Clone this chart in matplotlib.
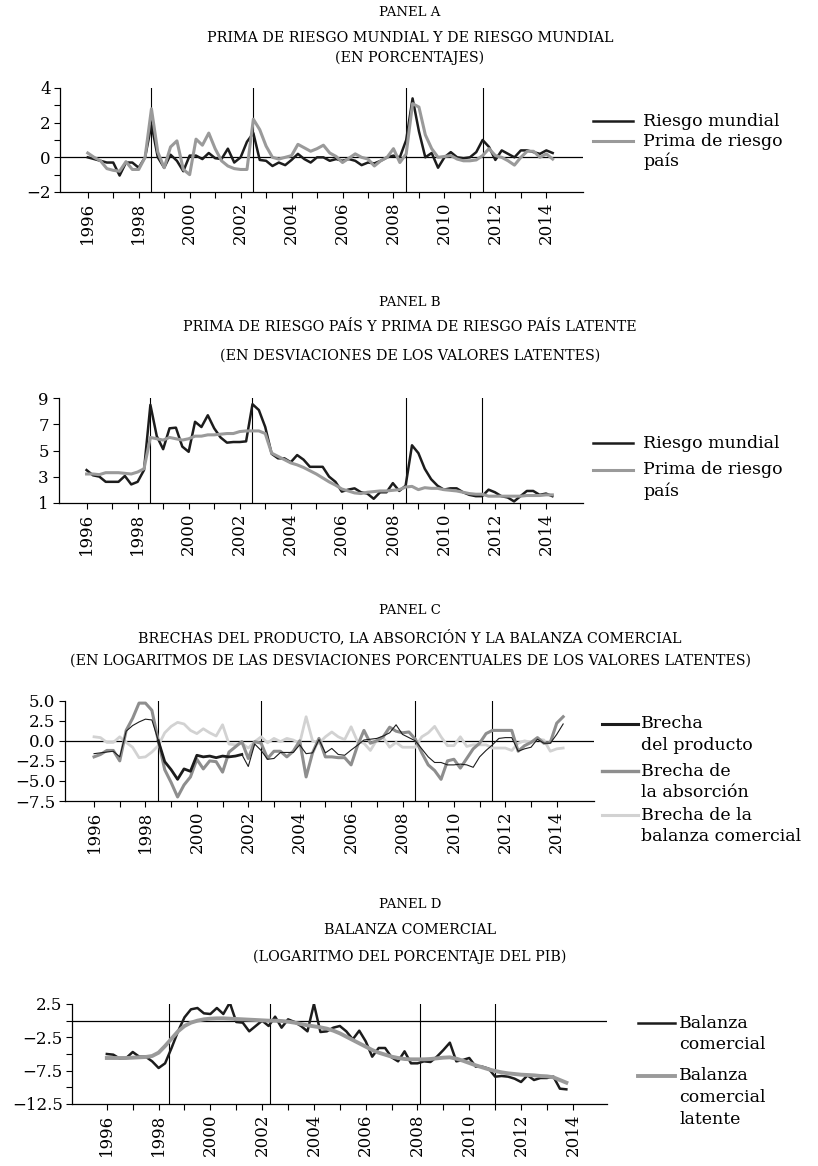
import numpy as np
import matplotlib
matplotlib.use('Agg')
import matplotlib.pyplot as plt
from matplotlib.lines import Line2D

W, H = 818, 1166
plt.rcParams['font.family'] = ['DejaVu Serif']
plt.rcParams['axes.unicode_minus'] = True

# ---- datos (trimestrales desde 1996T1) ----
a_riesgo_mundial = [
    0.0, -0.1, -0.2, -0.3, -0.3, -1.05, -0.3, -0.3, -0.6, 0.0,
    1.9, 0.0, -0.6, 0.15, -0.2, -0.8, 0.1, 0.1, -0.1, 0.25,
    -0.05, -0.1, 0.5, -0.3, 0.0, 0.9, 1.4, -0.15, -0.2, -0.5,
    -0.3, -0.45, -0.15, 0.2, -0.1, -0.3, 0.0, 0.0, -0.2, -0.1,
    -0.2, -0.1, -0.2, -0.45, -0.3, -0.35, -0.2, 0.0, 0.1, 0.0,
    1.0, 3.4, 1.5, 0.0, 0.25, -0.6, 0.0, 0.3, 0.0, -0.05,
    0.0, 0.3, 1.0, 0.6, -0.15, 0.4, 0.2, 0.0, 0.4, 0.4,
    0.3, 0.2, 0.4, 0.25]
a_prima_pais = [
    0.25, 0.0, -0.2, -0.65, -0.75, -0.8, -0.25, -0.7, -0.7, 0.0,
    2.8, 0.3, -0.6, 0.6, 0.95, -0.7, -1.0, 1.05, 0.7, 1.4,
    0.5, -0.2, -0.5, -0.65, -0.7, -0.7, 2.2, 1.6, 0.65, 0.0,
    -0.1, 0.0, 0.1, 0.75, 0.55, 0.35, 0.5, 0.7, 0.25, 0.05,
    -0.3, -0.05, 0.2, 0.0, -0.1, -0.5, -0.2, 0.0, 0.5, -0.3,
    0.2, 3.1, 2.9, 1.3, 0.5, 0.0, 0.05, 0.1, -0.1, -0.2,
    -0.2, -0.15, 0.1, 0.5, 0.1, 0.0, -0.2, -0.45, 0.0, 0.35,
    0.35, 0.0, 0.2, -0.1]

b_riesgo = [
    3.5, 3.1, 3.0, 2.6, 2.6, 2.6, 3.05, 2.4, 2.6, 3.5,
    8.5, 6.1, 5.1, 6.7, 6.75, 5.3, 4.9, 7.2, 6.8, 7.7,
    6.7, 6.0, 5.6, 5.65, 5.65, 5.7, 8.55, 8.1, 6.8, 4.75,
    4.4, 4.4, 4.1, 4.65, 4.3, 3.75, 3.75, 3.75, 3.0, 2.6,
    1.85, 2.0, 2.1, 1.8, 1.7, 1.3, 1.8, 1.8, 2.5, 1.9,
    2.3, 5.4, 4.8, 3.6, 2.8, 2.3, 2.0, 2.1, 2.1, 1.8,
    1.6, 1.5, 1.5, 2.0, 1.8, 1.5, 1.4, 1.1, 1.5, 1.9,
    1.9, 1.6, 1.7, 1.5]
b_latente = [
    3.2, 3.2, 3.15, 3.3, 3.3, 3.3, 3.25, 3.2, 3.35, 3.6,
    6.0, 5.9, 5.8, 6.0, 5.9, 5.8, 5.9, 6.1, 6.1, 6.2,
    6.2, 6.25, 6.3, 6.3, 6.45, 6.5, 6.5, 6.5, 6.3, 4.8,
    4.55, 4.3, 4.05, 3.9, 3.7, 3.45, 3.2, 2.9, 2.6, 2.35,
    2.05, 1.9, 1.75, 1.7, 1.8, 1.85, 1.9, 1.9, 1.95, 2.0,
    2.2, 2.25, 2.0, 2.15, 2.1, 2.1, 2.0, 1.95, 1.9, 1.8,
    1.7, 1.65, 1.65, 1.5, 1.5, 1.5, 1.5, 1.5, 1.5, 1.55,
    1.55, 1.55, 1.6, 1.6]

c_producto = [
    -1.6, -1.5, -1.4, -1.3, -2.0, 1.2, 1.9, 2.35, 2.7, 2.6,
    0.0, -2.6, -3.6, -4.8, -3.5, -3.8, -1.8, -2.0, -1.9, -2.1,
    -1.9, -2.0, -1.9, -1.7, -3.2, -0.4, -1.2, -2.3, -2.2, -1.45,
    -1.45, -1.45, -0.5, -1.6, -1.5, 0.15, -1.5, -0.95, -1.7, -1.8,
    -1.15, -0.55, 0.1, 0.2, 0.3, 0.6, 1.0, 2.0, 0.8, 0.4,
    0.0, -1.0, -2.0, -2.7, -2.7, -3.0, -3.0, -2.9, -3.0, -3.3,
    -2.0, -1.2, -0.5, 0.3, 0.4, 0.4, -1.3, -1.0, -0.8, 0.2,
    -0.3, -0.3, 0.8, 2.1]
c_absorcion = [
    -2.0, -1.7, -1.2, -1.2, -2.5, 1.3, 2.8, 4.7, 4.7, 3.8,
    0.0, -3.6, -5.2, -7.0, -5.5, -4.5, -2.3, -3.5, -2.5, -2.6,
    -3.9, -1.4, -0.75, -0.1, -2.2, -0.1, -0.3, -2.2, -1.3, -1.3,
    -2.0, -1.3, 0.0, -4.5, -1.5, 0.3, -2.0, -2.0, -2.1, -2.1,
    -3.0, -0.6, 1.3, -0.3, 0.0, 0.5, 1.7, 1.2, 1.0, 1.1,
    0.2, -1.5, -3.0, -3.7, -4.8, -2.5, -2.3, -3.4, -2.2, -1.0,
    -0.3, 0.9, 1.3, 1.3, 1.3, 1.3, -1.3, -0.6, -0.2, 0.4,
    -0.3, -0.2, 2.2, 3.0]
c_balanza = [
    0.5, 0.4, -0.2, -0.2, 0.5, -0.2, -0.8, -2.1, -2.0, -1.4,
    -0.6, 1.0, 1.8, 2.3, 2.1, 1.3, 0.9, 1.5, 1.0, 0.6,
    2.0, -0.4, -0.5, -0.3, -0.9, -0.1, 0.5, -0.25, 0.3, -0.1,
    0.3, 0.1, -0.3, 3.0, 0.0, -0.3, 0.5, 1.1, 0.5, 0.15,
    1.75, -0.1, -0.3, -1.2, 0.1, 0.4, -0.8, -0.2, -0.8, -0.8,
    -0.8, 0.5, 1.0, 1.8, 0.5, -0.6, -0.6, 0.5, -0.7, -0.5,
    -0.5, -0.5, -0.9, -0.9, -0.9, -1.2, -0.3, 0.0, -0.2, 0.2,
    0.1, -1.3, -1.0, -0.9]

d_balanza = [
    -5.0, -5.1, -5.7, -5.6, -4.7, -5.4, -5.4, -6.1, -7.1, -6.4,
    -4.1, -1.6, 0.5, 1.7, 1.9, 1.1, 1.0, 1.9, 1.0, 2.7,
    -0.2, -0.3, -1.6, -0.8, 0.0, -0.8, 0.6, -1.05, 0.2, -0.2,
    -0.8, -1.6, 2.5, -1.7, -1.6, -1.05, -0.8, -1.6, -2.8, -1.5,
    -3.1, -5.4, -4.1, -4.1, -5.5, -6.1, -4.6, -6.4, -6.4, -6.1,
    -6.2, -5.4, -4.4, -3.3, -6.1, -5.9, -5.6, -6.9, -6.9, -7.2,
    -8.4, -8.3, -8.4, -8.7, -9.2, -8.2, -8.9, -8.6, -8.6, -8.4,
    -10.2, -10.3]
d_latente = [
    -5.6, -5.6, -5.6, -5.6, -5.55, -5.5, -5.45, -5.3, -4.8, -3.8,
    -2.7, -1.6, -0.8, -0.3, 0.0, 0.2, 0.3, 0.35, 0.35, 0.3,
    0.25, 0.2, 0.15, 0.1, 0.05, 0.0, 0.0, -0.05, -0.15, -0.3,
    -0.5, -0.7, -0.85, -1.0, -1.2, -1.5, -1.9, -2.4, -2.9, -3.4,
    -3.9, -4.4, -4.8, -5.1, -5.4, -5.6, -5.75, -5.8, -5.8, -5.8,
    -5.75, -5.65, -5.55, -5.5, -5.7, -6.0, -6.35, -6.7, -7.0, -7.3,
    -7.55, -7.75, -7.9, -8.0, -8.1, -8.15, -8.2, -8.3, -8.35, -8.5,
    -8.9, -9.3]

years = list(range(1996, 2015))
crisis_abc = [1998.5, 2002.5, 2008.5, 2011.5]
crisis_d = [1998.4, 2002.3, 2008.1, 2011.0]

BLACK = '#1c1c1c'
GRAY = '#9a9a9a'
GRAY2 = '#8e8e8e'
LIGHT = '#d2d2d2'


def t(n):
    return 1996 + np.arange(n) / 4.0


def px_box(l, top, r, b):
    return [l / W, 1 - b / H, (r - l) / W, (b - top) / H]


fig = plt.figure(figsize=(W / 100, H / 100), dpi=100)


def titles(y0, lines):
    fig.text(410 / W, 1 - y0[0] / H, lines[0], ha='center', va='center', fontsize=9.5)
    fig.text(410 / W, 1 - y0[1] / H, lines[1], ha='center', va='center', fontsize=10.3)
    fig.text(410 / W, 1 - y0[2] / H, lines[2], ha='center', va='center', fontsize=10.3)


def style(ax, xlim, ylim, major, labels, minor, vlines, zero=True):
    ax.set_xlim(xlim)
    ax.set_ylim(ylim)
    for s in ['top', 'right']:
        ax.spines[s].set_visible(False)
    for s in ['left', 'bottom']:
        ax.spines[s].set_linewidth(0.9)
    ax.set_yticks(major)
    ax.set_yticklabels(labels)
    if minor is not None:
        ax.set_yticks(minor, minor=True)
    ax.set_xticks(years)
    ax.set_xticklabels([str(y) if y % 2 == 0 else '' for y in years], rotation=90)
    ax.tick_params(axis='x', length=4, width=0.8, pad=3, labelsize=12)
    ax.tick_params(axis='y', which='both', length=4, width=0.8, pad=3, labelsize=12)
    for v in vlines:
        ax.axvline(v, color='black', lw=0.8, zorder=1)
    if zero:
        ax.axhline(0, color='black', lw=0.9, zorder=1)


def legend(entries, x0, x1, tx, dy=21.5):
    for lines, color, lw, y in entries:
        fig.add_artist(Line2D([x0 / W, x1 / W], [1 - y / H, 1 - y / H], color=color, lw=lw))
        for i, s in enumerate(lines):
            fig.text(tx / W, 1 - (y + i * dy) / H, s, ha='left', va='center', fontsize=12.5)


# ---- Panel A ----
titles((13, 38, 58), ['PANEL A', 'PRIMA DE RIESGO MUNDIAL Y DE RIESGO MUNDIAL', '(EN PORCENTAJES)'])
ax = fig.add_axes(px_box(60.5, 88, 583, 192))
ax.plot(t(len(a_riesgo_mundial)), a_riesgo_mundial, color=BLACK, lw=1.8, zorder=3)
ax.plot(t(len(a_prima_pais)), a_prima_pais, color=GRAY, lw=2.2, zorder=3)
style(ax, (1994.93, 2015.44), (-2, 4), [-2, 0, 2, 4], ['\u22122', '0', '2', '4'],
      [-1, 1, 3], crisis_abc)
legend([(['Riesgo mundial'], BLACK, 1.8, 121),
        (['Prima de riesgo', 'país'], GRAY, 2.2, 141)], 593, 633, 643, dy=20.5)

# ---- Panel B ----
titles((303, 327, 356), ['PANEL B', 'PRIMA DE RIESGO PAÍS Y PRIMA DE RIESGO PAÍS LATENTE',
                          '(EN DESVIACIONES DE LOS VALORES LATENTES)'])
ax = fig.add_axes(px_box(58.5, 398.3, 583, 502.7))
ax.plot(t(len(b_riesgo)), b_riesgo, color=BLACK, lw=1.8, zorder=3)
ax.plot(t(len(b_latente)), b_latente, color=GRAY, lw=2.2, zorder=3)
style(ax, (1994.9, 2015.45), (1, 9), [1, 3, 5, 7, 9], ['1', '3', '5', '7', '9'],
      None, crisis_abc, zero=False)
legend([(['Riesgo mundial'], BLACK, 1.8, 443),
        (['Prima de riesgo', 'país'], GRAY, 2.2, 470)], 593, 633, 643, dy=21.5)

# ---- Panel C ----
titles((611, 637, 661), ['PANEL C', 'BRECHAS DEL PRODUCTO, LA ABSORCIÓN Y LA BALANZA COMERCIAL',
                          '(EN LOGARITMOS DE LAS DESVIACIONES PORCENTUALES DE LOS VALORES LATENTES)'])
ax = fig.add_axes(px_box(65, 700.7, 594, 801))
tc = t(len(c_producto))
ax.plot(tc, c_balanza, color=LIGHT, lw=2.0, zorder=2)
ax.plot(tc, c_absorcion, color=GRAY2, lw=2.2, zorder=3)
ax.plot(tc, c_producto, color=BLACK, lw=0.8, zorder=4)
ax.plot(tc[10:24], c_producto[10:24], color=BLACK, lw=2.0, zorder=4)
style(ax, (1994.87, 2015.45), (-7.5, 5.0), [-7.5, -5, -2.5, 0, 2.5, 5],
      ['\u22127.5', '\u22125.0', '\u22122.5', '0.0', '2.5', '5.0'], None, crisis_abc)
legend([(['Brecha', 'del producto'], BLACK, 2.2, 724),
        (['Brecha de', 'la absorción'], GRAY2, 2.4, 771),
        (['Brecha de la', 'balanza comercial'], LIGHT, 2.2, 815)], 602, 638, 641, dy=21.7)

# ---- Panel D ----
titles((904, 930, 957), ['PANEL D', 'BALANZA COMERCIAL', '(LOGARITMO DEL PORCENTAJE DEL PIB)'])
ax = fig.add_axes(px_box(72.4, 1004, 607, 1104))
ax.plot(t(len(d_balanza)), d_balanza, color=BLACK, lw=1.8, zorder=3)
ax.plot(t(len(d_latente)), d_latente, color=GRAY, lw=2.8, zorder=3)
style(ax, (1994.67, 2015.32), (-12.5, 2.5), [-12.5, -7.5, -2.5, 2.5],
      ['\u221212.5', '\u22127.5', '\u22122.5', '2.5'], [-10, -5, 0], crisis_d)
legend([(['Balanza', 'comercial'], BLACK, 1.8, 1023),
        (['Balanza', 'comercial', 'latente'], GRAY, 2.8, 1076)], 638, 675, 679, dy=21.5)

fig.savefig('out.png', dpi=100)
